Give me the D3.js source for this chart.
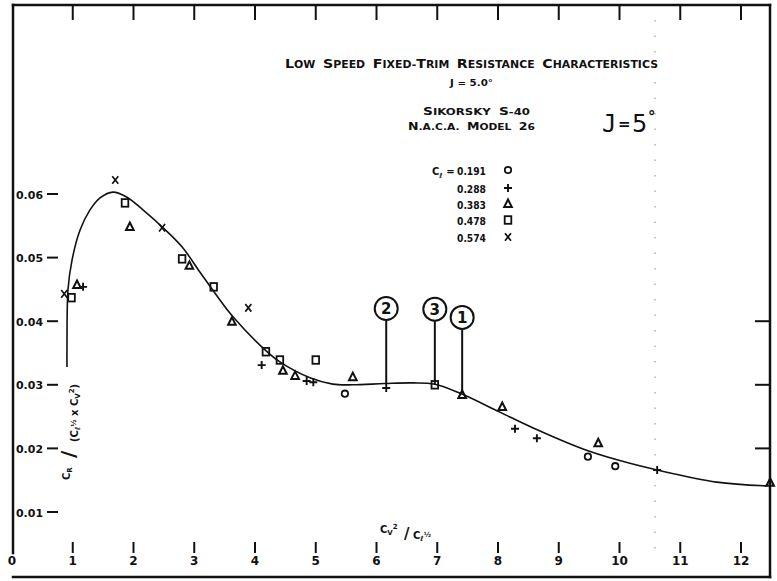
<!DOCTYPE html>
<html>
<head>
<meta charset="utf-8">
<script src="https://cdn.jsdelivr.net/npm/d3@7"></script>
<style>
  body { margin: 0; background: #fff; }
  svg { display: block; }
  text { font-family: "DejaVu Sans", "Liberation Sans", sans-serif; font-weight: bold; fill: #111; }
</style>
</head>
<body>
<svg id="chart" width="777" height="581"></svg>
<script>
// Axis ticks
const xTicks = [0, 1, 2, 3, 4, 5, 6, 7, 8, 9, 10, 11, 12];
const xTickLabels = ["0", "1", "2", "3", "4", "5", "6", "7", "8", "9", "10", "11", "12"];
const yTicks = [0.01, 0.02, 0.03, 0.04, 0.05, 0.06];
const yTickLabels = ["0.01", "0.02", "0.03", "0.04", "0.05", "0.06"];
const rightTicks = [0.02, 0.03, 0.04];

// Lift coefficient series (legend order) and their symbols
const liftCoefficients = ["0.191", "0.288", "0.383", "0.478", "0.574"];
const seriesShapes = ["circle", "plus", "triangle", "square", "cross"];

// Test points, C_V^2 / C_L^(1/2) against resistance ratio
const cl191X = [5.48, 9.48, 9.93];
const cl191Y = [0.0286, 0.0187, 0.0172];
const cl288X = [1.17, 4.11, 4.85, 4.96, 6.16, 8.28, 8.64, 10.62];
const cl288Y = [0.0454, 0.0331, 0.0306, 0.0304, 0.0295, 0.0231, 0.0216, 0.0166];
const cl383X = [1.07, 1.94, 2.92, 3.62, 4.46, 4.66, 5.61, 7.41, 8.07, 9.65, 12.48];
const cl383Y = [0.0457, 0.0548, 0.0487, 0.0399, 0.0322, 0.0314, 0.0312, 0.0284, 0.0265, 0.0208, 0.0146];
const cl478X = [0.98, 1.86, 2.80, 3.32, 4.18, 4.41, 5.00, 6.96];
const cl478Y = [0.0437, 0.0586, 0.0498, 0.0454, 0.0352, 0.0339, 0.0339, 0.0300];
const cl574X = [0.86, 1.70, 2.47, 3.89];
const cl574Y = [0.0443, 0.0622, 0.0547, 0.0421];

// Faired curve through the test points
const fairedX = [0.905, 0.905, 0.922, 0.988, 1.119, 1.284, 1.449, 1.663, 1.893, 2.156, 2.486, 2.798, 3.095, 3.342, 3.638, 4.165, 4.41, 4.905, 5.28, 5.61, 6.14, 6.60, 6.96, 7.37, 8.03, 8.58, 9.40, 9.96, 10.62, 11.60, 12.43];
const fairedY = [0.0328, 0.0355, 0.0450, 0.0496, 0.0543, 0.0575, 0.0594, 0.0603, 0.0595, 0.0575, 0.0547, 0.0517, 0.0477, 0.0444, 0.0407, 0.0355, 0.0336, 0.0311, 0.0301, 0.0300, 0.0302, 0.0303, 0.0301, 0.0287, 0.0257, 0.0232, 0.0199, 0.0182, 0.0166, 0.0147, 0.0141];

// Numbered call-outs on the curve
const calloutLabels = ["2", "3", "1"];
const calloutX = [6.16, 6.96, 7.41];
const calloutY = [0.0302, 0.0301, 0.0288];

const svg = d3.select("#chart");
const ink = "#111";

const x = d3.scaleLinear().domain([0, 12]).range([12, 741]);
const y = d3.scaleLinear().domain([0, 0.06]).range([575.6, 194]);

// Frame
const frame = svg.append("g").attr("stroke", ink).attr("stroke-width", 2.5).attr("fill", "none").attr("stroke-linecap", "square");
frame.append("line").attr("x1", 13).attr("x2", 770).attr("y1", 5).attr("y2", 5);
frame.append("line").attr("x1", 13).attr("x2", 13).attr("y1", 5).attr("y2", 553);
frame.append("line").attr("x1", 770).attr("x2", 770).attr("y1", 5).attr("y2", y(0) + 1.5);
frame.append("line").attr("x1", 13).attr("x2", 770).attr("y1", y(0) + 1.5).attr("y2", y(0) + 1.5);

// Faint scanner streak
svg.append("line").attr("x1", 655).attr("x2", 655).attr("y1", 20).attr("y2", 560)
  .attr("stroke", "#999").attr("stroke-width", 1.2).attr("stroke-dasharray", "1.5,14");

// Top ticks
svg.append("g").selectAll("line").data(xTicks.filter(d => d > 0)).join("line")
  .attr("x1", d => x(d)).attr("x2", d => x(d)).attr("y1", 5).attr("y2", 20)
  .attr("stroke", ink).attr("stroke-width", 2);

// Bottom ticks and labels (standing above the base line)
svg.append("g").selectAll("line").data(xTicks.filter(d => d > 0)).join("line")
  .attr("x1", d => x(d)).attr("x2", d => x(d)).attr("y1", 542).attr("y2", 553)
  .attr("stroke", ink).attr("stroke-width", 2);
svg.append("g").selectAll("text").data(xTicks).join("text")
  .attr("x", d => x(d)).attr("y", 565).attr("text-anchor", "middle")
  .attr("font-size", 12).text((d, i) => xTickLabels[i]);

// Left ticks and labels (inside the frame)
svg.append("g").selectAll("line").data(yTicks).join("line")
  .attr("x1", 47).attr("x2", 58).attr("y1", d => y(d)).attr("y2", d => y(d))
  .attr("stroke", ink).attr("stroke-width", 2);
svg.append("g").selectAll("text").data(yTicks).join("text")
  .attr("x", 16).attr("y", d => y(d) + 4.5)
  .attr("font-size", 11).attr("textLength", 27).attr("lengthAdjust", "spacingAndGlyphs")
  .text((d, i) => yTickLabels[i]);

// Right ticks
svg.append("g").selectAll("line").data(rightTicks).join("line")
  .attr("x1", 755).attr("x2", 770).attr("y1", d => y(d)).attr("y2", d => y(d))
  .attr("stroke", ink).attr("stroke-width", 2);

// Faired curve
const line = d3.line().x(d => x(d[0])).y(d => y(d[1])).curve(d3.curveCatmullRom.alpha(0.5));
svg.append("path").datum(fairedX.map((v, i) => [v, fairedY[i]]))
  .attr("d", line).attr("fill", "none").attr("stroke", ink).attr("stroke-width", 1.6);

// Symbols
function drawSymbol(g, shape, cx, cy) {
  const s = g.append("g").attr("transform", `translate(${cx},${cy})`)
    .attr("stroke", ink).attr("fill", "none").attr("stroke-width", 1.8);
  if (shape === "circle") s.append("circle").attr("r", 3.2);
  else if (shape === "plus") s.append("path").attr("d", "M-4,0H4M0,-4V4").attr("stroke-width", 1.9);
  else if (shape === "triangle") s.append("path").attr("d", "M0,-4.5L3.8,3L-3.8,3Z").attr("stroke-width", 2);
  else if (shape === "square") s.append("rect").attr("x", -3.3).attr("y", -3.8).attr("width", 6.6).attr("height", 7.6);
  else if (shape === "cross") s.append("path").attr("d", "M-3,-3.8L3,3.8M3,-3.8L-3,3.8").attr("stroke-width", 1.7);
}

const seriesX = [cl191X, cl288X, cl383X, cl478X, cl574X];
const seriesY = [cl191Y, cl288Y, cl383Y, cl478Y, cl574Y];
const pts = svg.append("g");
seriesX.forEach((xs, k) => {
  xs.forEach((v, i) => drawSymbol(pts, seriesShapes[k], x(v), y(seriesY[k][i])));
});

// Call-outs
const co = svg.append("g");
calloutLabels.forEach((lab, i) => {
  const px = x(calloutX[i]), py = y(calloutY[i]);
  const top = py - 63;
  co.append("line").attr("x1", px).attr("x2", px).attr("y1", py).attr("y2", top)
    .attr("stroke", ink).attr("stroke-width", 2);
  co.append("circle").attr("cx", px).attr("cy", top - 12).attr("r", 11.5)
    .attr("fill", "#fff").attr("stroke", ink).attr("stroke-width", 2);
  co.append("text").attr("x", px).attr("y", top - 6.5).attr("text-anchor", "middle")
    .attr("font-size", 15).text(lab);
});

// Title block
function smallCaps(t, words, big, small) {
  words.forEach((w, wi) => {
    [...w].forEach((ch, ci) => {
      if (ch === "*") return;
      const prevStar = ci > 0 && w[ci - 1] === "*";
      t.append("tspan").attr("font-size", (ci === 0 || prevStar) ? big : small).text(ch);
    });
    if (wi < words.length - 1) t.append("tspan").attr("font-size", small).text("\u00a0\u00a0");
  });
}
const title = svg.append("text").attr("x", 285).attr("y", 68)
  .attr("textLength", 373).attr("lengthAdjust", "spacingAndGlyphs");
smallCaps(title, ["LOW", "SPEED", "FIXED-*TRIM", "RESISTANCE", "CHARACTERISTICS"], 13, 10);

svg.append("text").attr("x", 450).attr("y", 86).attr("font-size", 9)
  .attr("textLength", 43).attr("lengthAdjust", "spacingAndGlyphs").text("J = 5.0°");

const sik = svg.append("text").attr("x", 423).attr("y", 115)
  .attr("textLength", 107).attr("lengthAdjust", "spacingAndGlyphs");
smallCaps(sik, ["SIKORSKY", "S-40"], 10, 8.5);
const naca = svg.append("text").attr("x", 408).attr("y", 130)
  .attr("textLength", 127).attr("lengthAdjust", "spacingAndGlyphs");
smallCaps(naca, ["N.A.C.A.", "MODEL", "26"], 10, 8.5);

// Large trim-angle note
svg.append("text").attr("x", 602).attr("y", 132).attr("font-size", 24)
  .style("font-weight", "normal")
  .append("tspan").style("font-family", "'DejaVu Sans Mono', monospace").text("J");
svg.append("text").attr("x", 618).attr("y", 129).attr("font-size", 15).text("=");
svg.append("text").attr("x", 632).attr("y", 132).attr("font-size", 24)
  .style("font-weight", "normal").text("5");
svg.append("text").attr("x", 648).attr("y", 122).attr("font-size", 15).text("°");

// Legend
const legendRows = [170, 188, 204, 220, 237];
const leg = svg.append("g");
liftCoefficients.forEach((c, i) => {
  leg.append("text").attr("x", 486).attr("y", legendRows[i] + 4.5).attr("text-anchor", "end")
    .attr("font-size", 11).attr("textLength", 29).attr("lengthAdjust", "spacingAndGlyphs").text(c);
  drawSymbol(leg, seriesShapes[i], 508, legendRows[i]);
});
const clLab = leg.append("text").attr("x", 432).attr("y", legendRows[0] + 4.5).attr("font-size", 10);
clLab.append("tspan").text("C");
clLab.append("tspan").attr("font-size", 7).attr("dy", 3).text("ℓ");
clLab.append("tspan").attr("dy", -3).text(" =");

// X-axis title
const xt = svg.append("g");
const xa = xt.append("text").attr("x", 380).attr("y", 533).attr("font-size", 10);
xa.append("tspan").text("C");
xa.append("tspan").attr("font-size", 7).attr("dy", 2).text("V");
xa.append("tspan").attr("font-size", 7).attr("dy", -6).text("2");
xt.append("text").attr("x", 404).attr("y", 539).attr("font-size", 15).attr("font-weight", "normal").text("/");
const xb = xt.append("text").attr("x", 413).attr("y", 539).attr("font-size", 10);
xb.append("tspan").text("C");
xb.append("tspan").attr("font-size", 7).attr("dy", 2).text("ℓ");
xb.append("tspan").attr("font-size", 7).attr("dy", -4).text("½");

// Y-axis title (rotated)
const yt = svg.append("g").attr("transform", "translate(68,480) rotate(-90)");
const ya = yt.append("text").attr("x", 0).attr("y", 2).attr("font-size", 10);
ya.append("tspan").text("C");
ya.append("tspan").attr("font-size", 7).attr("dy", 2).text("R");
yt.append("text").attr("x", 22).attr("y", 7).attr("font-size", 20).attr("font-weight", "normal").text("/");
const yb = yt.append("text").attr("x", 38).attr("y", 10).attr("font-size", 10);
yb.append("tspan").text("(C");
yb.append("tspan").attr("font-size", 7).attr("dy", 2).text("ℓ");
yb.append("tspan").attr("font-size", 7).attr("dy", -4).text("½");
yb.append("tspan").attr("dy", 2).text(" x C");
yb.append("tspan").attr("font-size", 7).attr("dy", 2).text("V");
yb.append("tspan").attr("font-size", 7).attr("dy", -6).text("2");
yb.append("tspan").attr("dy", 4).text(")");
</script>
</body>
</html>
